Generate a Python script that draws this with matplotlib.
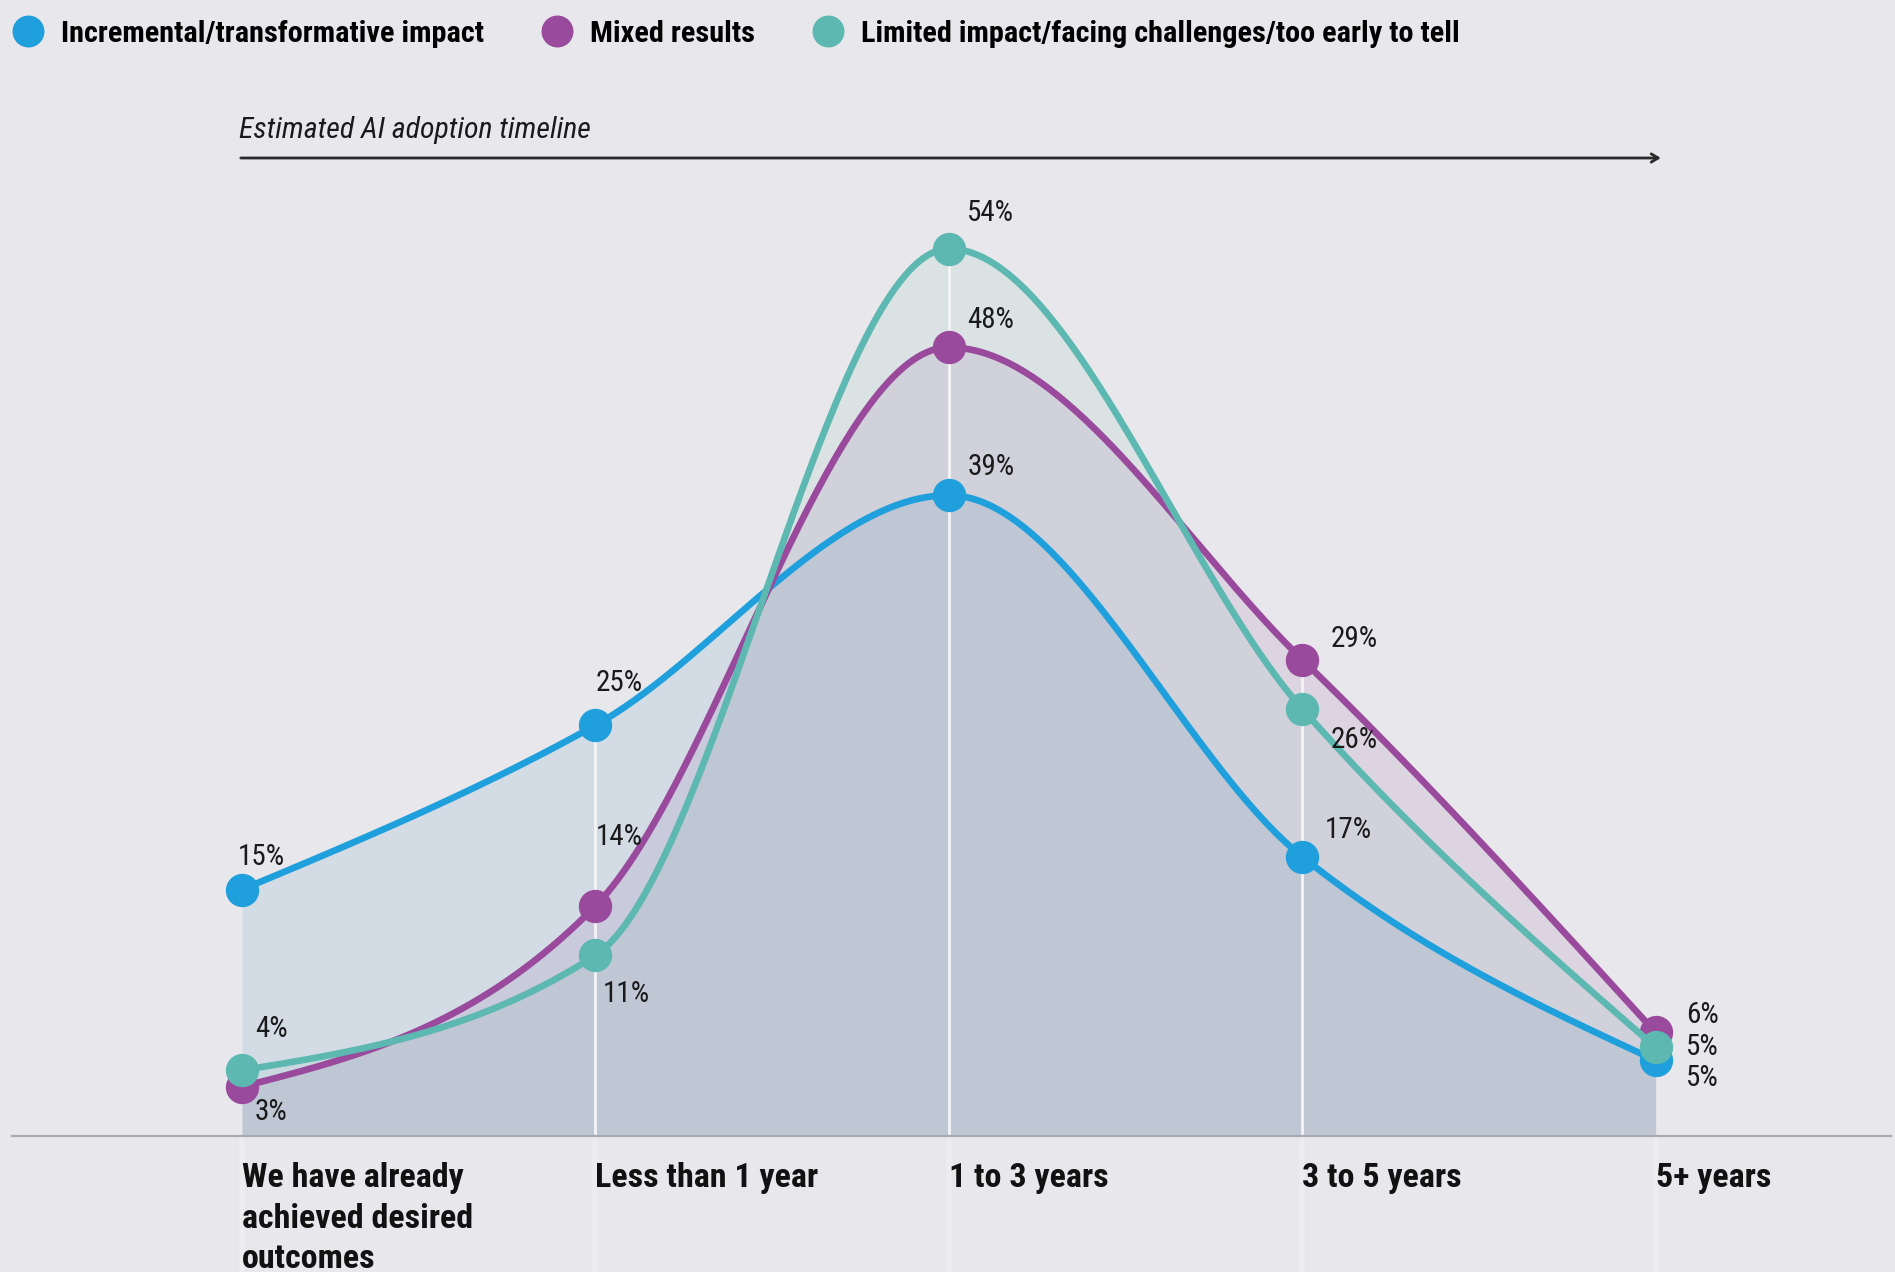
import numpy as np
import matplotlib
matplotlib.use("Agg")
import matplotlib.pyplot as plt
from matplotlib import font_manager
from matplotlib.lines import Line2D
import matplotlib.transforms as mtransforms

# ---------------- data ----------------
categories = ["We have already\nachieved desired\noutcomes", "Less than 1 year",
              "1 to 3 years", "3 to 5 years", "5+ years"]
series_names = ["Incremental/transformative impact", "Mixed results",
                "Limited impact/facing challenges/too early to tell"]
incremental = [15, 25, 39, 17, 4.6]
mixed = [3, 14, 48, 29, 6.3]
limited = [4, 11, 54, 26, 5.4]
axis_title = "Estimated AI adoption timeline"

# ---------------- styles ----------------
BG = "#E8E8EC"
line_colors = ["#1FA0DD", "#9A4A9C", "#5DB8B1"]
fill_colors = ["#207AB0", "#7A3488", "#70B6A6"]
FILL_ALPHA = 0.10
# label offsets in pixels (dx, dy screen-down)
label_offsets = [
    [(19, -33), (24, -42), (42, -28), (46, -27), (47, 18)],
    [(29, 25), (24, -69), (42, -27), (52, -21), (47, -17)],
    [(29, -41), (31, 39), (42, -36), (52, 31), (47, 0)],
]

def pick_font():
    names = {f.name for f in font_manager.fontManager.ttflist}
    for n in ["Roboto Condensed", "Liberation Sans Narrow", "Archivo Narrow",
              "Barlow Semi Condensed", "DejaVu Sans"]:
        if n in names:
            return n
    return "DejaVu Sans"

FONT = pick_font()
plt.rcParams["font.family"] = [FONT, "DejaVu Sans"]

def monotone_path(y, n=80):
    """d3 curveMonotoneX style path through the points (rendering only)."""
    y = np.asarray(y, float)
    m = len(y)
    s = np.diff(y)
    t = np.zeros(m)
    for i in range(1, m - 1):
        s0, s1 = s[i - 1], s[i]
        p = (s0 + s1) / 2.0
        t[i] = (np.sign(s0) + np.sign(s1)) * min(abs(s0), abs(s1), 0.5 * abs(p))
    t[0] = (3 * s[0] - t[1]) / 2.0
    t[-1] = (3 * s[-1] - t[-2]) / 2.0
    xs, ys = [], []
    for i in range(m - 1):
        u = np.linspace(0, 1, n, endpoint=(i == m - 2))
        h00 = 2 * u**3 - 3 * u**2 + 1
        h10 = u**3 - 2 * u**2 + u
        h01 = -2 * u**3 + 3 * u**2
        h11 = u**3 - u**2
        xs.append(i + u)
        ys.append(h00 * y[i] + h10 * t[i] + h01 * y[i + 1] + h11 * t[i + 1])
    return np.concatenate(xs), np.concatenate(ys)

# ---------------- figure ----------------
W, H = 1895, 1272
fig = plt.figure(figsize=(W / 100, H / 100), dpi=100, facecolor=BG)
ax = fig.add_axes([0, 0, 1, 1])
ax.set_facecolor(BG)

# pixel layout anchors
X0_PX, DX_PX = 242, 353.4
Y0_PX, DY_PX = 1136, 16.43
ax.set_xlim(-X0_PX / DX_PX, (W - X0_PX) / DX_PX)
ax.set_ylim((Y0_PX - H) / DY_PX, Y0_PX / DY_PX)

all_series = [incremental, mixed, limited]
xidx = np.arange(len(categories))

# faint vertical bands below the baseline
ax.vlines(xidx, ax.get_ylim()[0], 0, color="#EDEDF0", lw=4, zorder=0.5)

# fills
for vals, fc in zip(all_series, fill_colors):
    xs, ys = monotone_path(vals)
    ax.fill_between(xs, 0, ys, color=fc, alpha=FILL_ALPHA, lw=0, zorder=1)

# white vertical guides at interior categories
tops = np.max(np.array(all_series), axis=0)
ax.vlines(xidx[1:-1], 0, tops[1:-1], color="#F4F4F7", lw=2, zorder=2)

# lines + markers
for k, (vals, lc) in enumerate(zip(all_series, line_colors)):
    xs, ys = monotone_path(vals)
    ax.plot(xs, ys, color=lc, lw=4.8, zorder=3 + k, solid_capstyle="round")
    ax.plot(xidx, vals, ls="none", marker="o", ms=23, color=lc, mec=lc, zorder=3.5 + k)

# value labels
for k, vals in enumerate(all_series):
    for i, v in enumerate(vals):
        dx, dy = label_offsets[k][i]
        ax.annotate(f"{v:.0f}%", (i, v), xytext=(dx, -dy), textcoords="offset pixels",
                    ha="center", va="center", fontsize=21, color="#1A1A1A", zorder=10)

# baseline + tick labels
for sp in ["top", "right", "left"]:
    ax.spines[sp].set_visible(False)
ax.spines["bottom"].set_position(("data", 0))
ax.spines["bottom"].set_color("#A9A9B2")
ax.spines["bottom"].set_linewidth(1.6)
xl = ax.get_xlim()
ax.spines["bottom"].set_bounds(xl[0] + 12 / DX_PX, xl[1] - 4 / DX_PX)
ax.set_yticks([])
ax.set_xticks(xidx)
ax.set_xticklabels(categories, fontsize=24.5, fontweight="bold", color="#111111",
                   ha="left", va="top", linespacing=1.34)
ax.tick_params(axis="x", length=0, pad=19)

# timeline arrow + title
trans = mtransforms.blended_transform_factory(ax.transData, ax.transAxes)
arrow_y = 1 - 158 / H
ax.annotate("", xy=(xidx[-1] + 8 / DX_PX, arrow_y), xytext=(xidx[0] - 4 / DX_PX, arrow_y),
            xycoords=trans, textcoords=trans,
            arrowprops=dict(arrowstyle="->,head_length=0.5,head_width=0.3",
                            color="#2A2A2A", lw=2))
ax.text(xidx[0] - 3 / DX_PX, 1 - 138 / H, axis_title, transform=trans, fontsize=21.5,
        style="italic", ha="left", va="baseline", color="#1A1A1A")

# legend
handles = [Line2D([], [], ls="none", marker="o", ms=22, color=c) for c in line_colors]
fig.legend(handles, series_names, loc="center left", bbox_to_anchor=(13 / W, 1 - 34 / H),
           ncol=3, frameon=False, handlelength=1.0, handletextpad=0.6, columnspacing=1.9,
           borderaxespad=0, borderpad=0,
           prop=dict(family=[FONT, "DejaVu Sans"], weight="bold", size=21.8))

fig.savefig("out.png", dpi=100, facecolor=BG)
